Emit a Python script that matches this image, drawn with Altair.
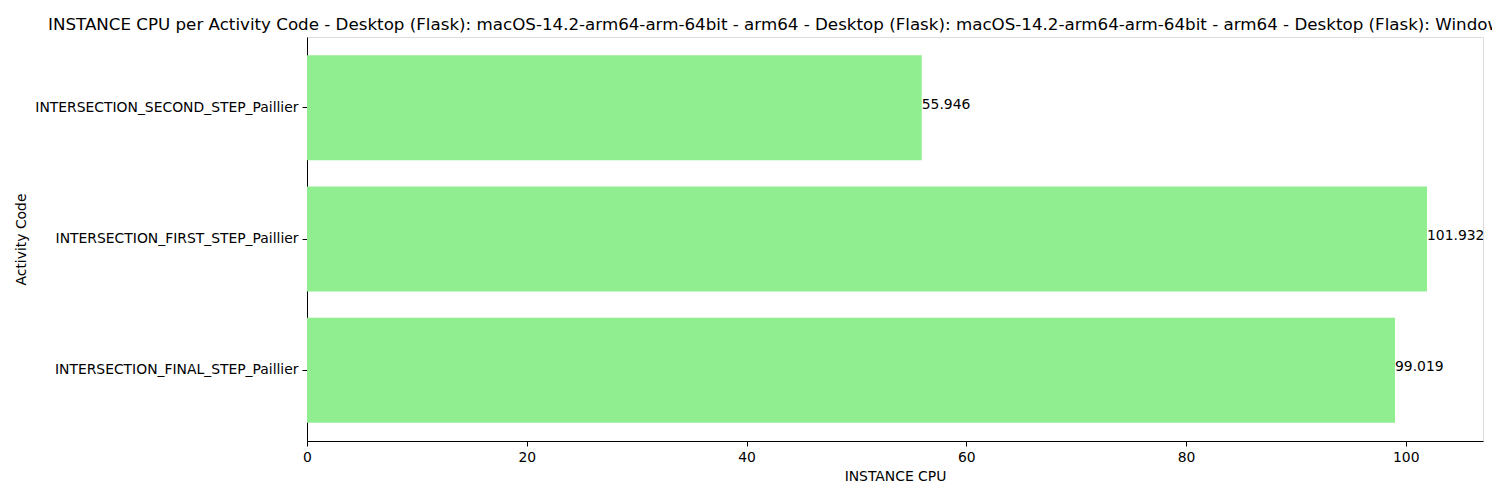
import altair as alt
import pandas as pd

activities = [
    "INTERSECTION_SECOND_STEP_Paillier",
    "INTERSECTION_FIRST_STEP_Paillier",
    "INTERSECTION_FINAL_STEP_Paillier",
]
cpu_values = [55.946, 101.932, 99.019]
x_ticks = [0, 20, 40, 60, 80, 100]
title_text = ("INSTANCE CPU per Activity Code - Desktop (Flask): macOS-14.2-arm64-arm-64bit - arm64"
              " - Desktop (Flask): macOS-14.2-arm64-arm-64bit - arm64 - Desktop (Flask): Windows")

df = pd.DataFrame({"activity": activities, "cpu": cpu_values})
df["label"] = df["cpu"].map(lambda v: f"{v:.3f}")

FONT = "DejaVu Sans"

y_enc = alt.Y(
    "activity:N",
    sort=activities,
    scale=alt.Scale(paddingInner=0.2, paddingOuter=0.14),
    axis=alt.Axis(
        title="Activity Code",
        titleFontSize=13.9,
        titleFontWeight="normal",
        titleFont=FONT,
        titleColor="black",
        titleX=-286,
        titleY=202,
        titleBaseline="middle",
        titleAlign="center",
        titleAngle=270,
        labelFontSize=13.9,
        labelFont=FONT,
        labelColor="black",
        labelPadding=4,
        tickSize=5,
        tickColor="black",
        domainColor="black",
        labelLimit=400,
    ),
)

x_enc = alt.X(
    "cpu:Q",
    scale=alt.Scale(domain=[0, 107.03], nice=False, zero=True),
    axis=alt.Axis(
        title="INSTANCE CPU",
        values=x_ticks,
        grid=False,
        titleFontSize=13.9,
        titleFontWeight="normal",
        titleFont=FONT,
        titleColor="black",
        titlePadding=6,
        labelFontSize=13.9,
        labelFont=FONT,
        labelColor="black",
        labelPadding=4,
        tickSize=5,
        tickColor="black",
        domainColor="black",
        labelFlush=False,
    ),
)

bars = alt.Chart(df).mark_bar(color="#90EE90").encode(x=x_enc, y=y_enc)

labels = alt.Chart(df).mark_text(
    align="left", baseline="alphabetic", font=FONT, fontSize=13.9, color="black", dx=0, dy=1
).encode(x=alt.X("cpu:Q"), y=alt.Y("activity:N", sort=activities), text="label:N")

chart = (
    alt.layer(bars, labels)
    .properties(
        width=1176,
        height=404,
        title=alt.TitleParams(
            text=title_text,
            font=FONT,
            fontSize=16.7,
            fontWeight="normal",
            color="black",
            anchor="start",
            frame="group",
            baseline="alphabetic",
            offset=8,
            dx=-259,
            dy=18,
        ),
        padding={"left": 299, "top": 29, "right": 9, "bottom": 51},
        autosize=alt.AutoSizeParams(type="none"),
    )
    .configure_view(stroke="black", strokeWidth=1.1)
    .configure(background="white")
)

chart.save("out.html", embed_options={"renderer": "svg", "actions": False})
